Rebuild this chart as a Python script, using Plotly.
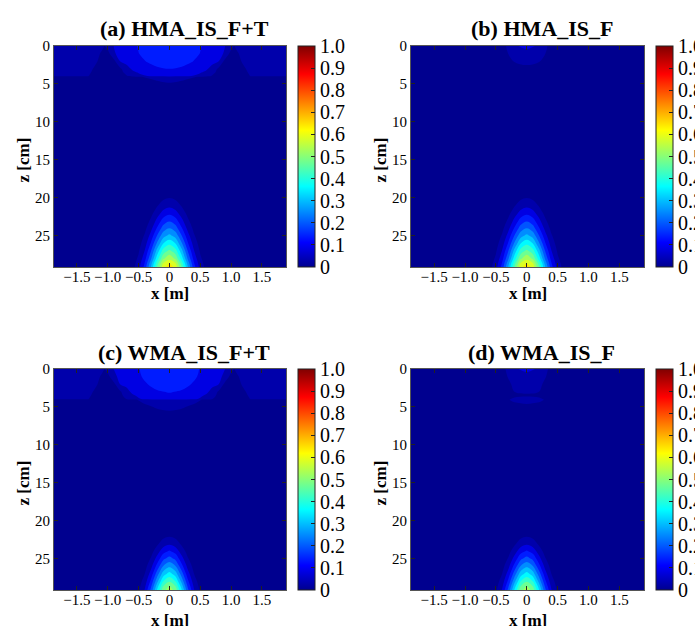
import plotly.graph_objects as go

# ---------------- data ----------------
TITLES = ["(a) HMA_IS_F+T", "(b) HMA_IS_F", "(c) WMA_IS_F+T", "(d) WMA_IS_F"]
X_TICKS = [-1.5, -1.0, -0.5, 0, 0.5, 1.0, 1.5]
X_TICK_TEXT = ["\u22121.5", "\u22121.0", "\u22120.5", "0", "0.5", "1.0", "1.5"]
Z_TICKS = [0, 5, 10, 15, 20, 25]
Z_TICK_TEXT = ["0", "5", "10", "15", "20", "25"]
CB_TICKS = [0, 0.1, 0.2, 0.3, 0.4, 0.5, 0.6, 0.7, 0.8, 0.9, 1.0]
CB_TICK_TEXT = ["0", "0.1", "0.2", "0.3", "0.4", "0.5", "0.6", "0.7", "0.8", "0.9", "1.0"]

# near-surface field (half width, x >= 0), rows follow Z_TOP
X_HALF_TOP = [0, 0.2, 0.35, 0.5, 0.6, 0.7, 0.8, 0.9, 1.0, 1.05, 1.1, 1.2, 1.3, 1.45, 1.6, 1.75, 1.9]
Z_TOP = [0, 1, 2, 3, 3.5, 3.95, 4.05, 4.5, 5, 6, 9]

TOP_A = [
    [0.190, 0.185, 0.172, 0.153, 0.140, 0.125, 0.112, 0.101, 0.070, 0.049, 0.062, 0.072, 0.075, 0.075, 0.075, 0.075, 0.075],
    [0.180, 0.176, 0.165, 0.149, 0.137, 0.124, 0.112, 0.095, 0.030, 0.032, 0.045, 0.066, 0.074, 0.075, 0.075, 0.075, 0.075],
    [0.168, 0.163, 0.153, 0.140, 0.128, 0.115, 0.100, 0.035, 0.030, 0.030, 0.035, 0.058, 0.070, 0.074, 0.074, 0.074, 0.074],
    [0.150, 0.145, 0.135, 0.120, 0.107, 0.080, 0.040, 0.030, 0.028, 0.028, 0.030, 0.042, 0.062, 0.072, 0.073, 0.073, 0.073],
    [0.140, 0.133, 0.118, 0.103, 0.088, 0.062, 0.035, 0.028, 0.026, 0.026, 0.028, 0.038, 0.055, 0.070, 0.072, 0.072, 0.072],
    [0.130, 0.120, 0.101, 0.085, 0.068, 0.045, 0.030, 0.025, 0.024, 0.024, 0.025, 0.033, 0.049, 0.068, 0.072, 0.072, 0.072],
    [0.078, 0.070, 0.058, 0.045, 0.035, 0.025, 0.015, 0.010, 0.006, 0.005, 0.004, 0.003, 0.002],
    [0.062, 0.053, 0.040, 0.028, 0.020, 0.014, 0.008, 0.005, 0.003, 0.002, 0.002, 0.001],
    [0.045, 0.035, 0.025, 0.015, 0.010, 0.006, 0.003, 0.002],
    [0.025, 0.020, 0.012, 0.006, 0.003],
    [],
]
TOP_B = [
    [0.110, 0.095, 0.045, 0.020, 0.012, 0.008, 0.005, 0.003],
    [0.085, 0.072, 0.040, 0.018, 0.010, 0.006, 0.004, 0.002],
    [0.060, 0.052, 0.032, 0.015, 0.008, 0.005, 0.003],
    [0.040, 0.035, 0.022, 0.010, 0.005, 0.003],
    [0.034, 0.029, 0.019, 0.009, 0.004, 0.002],
    [0.030, 0.025, 0.016, 0.008, 0.004],
    [0.020, 0.017, 0.011, 0.005, 0.002],
    [0.016, 0.013, 0.008, 0.004],
    [0.012, 0.010, 0.006, 0.003],
    [0.006, 0.005, 0.003],
    [],
]
TOP_C = [
    [0.185, 0.178, 0.165, 0.148, 0.136, 0.124, 0.112, 0.101, 0.070, 0.049, 0.062, 0.072, 0.075, 0.075, 0.075, 0.075, 0.075],
    [0.177, 0.172, 0.160, 0.145, 0.134, 0.122, 0.108, 0.092, 0.030, 0.032, 0.045, 0.066, 0.074, 0.075, 0.075, 0.075, 0.075],
    [0.165, 0.160, 0.150, 0.137, 0.126, 0.113, 0.100, 0.035, 0.030, 0.030, 0.035, 0.058, 0.070, 0.074, 0.074, 0.074, 0.074],
    [0.152, 0.147, 0.137, 0.123, 0.110, 0.082, 0.042, 0.030, 0.028, 0.028, 0.030, 0.042, 0.062, 0.072, 0.073, 0.073, 0.073],
    [0.145, 0.138, 0.124, 0.108, 0.093, 0.066, 0.037, 0.028, 0.026, 0.026, 0.028, 0.038, 0.055, 0.070, 0.072, 0.072, 0.072],
    [0.138, 0.130, 0.112, 0.095, 0.075, 0.050, 0.033, 0.026, 0.024, 0.024, 0.025, 0.033, 0.049, 0.068, 0.072, 0.072, 0.072],
    [0.090, 0.082, 0.068, 0.052, 0.042, 0.032, 0.022, 0.015, 0.010, 0.008, 0.007, 0.005, 0.003],
    [0.078, 0.070, 0.057, 0.043, 0.034, 0.025, 0.017, 0.011, 0.007, 0.005, 0.004, 0.003, 0.002],
    [0.062, 0.055, 0.043, 0.031, 0.024, 0.017, 0.011, 0.007, 0.004, 0.003, 0.002, 0.001],
    [0.038, 0.033, 0.025, 0.017, 0.012, 0.008, 0.005, 0.003],
    [],
]
TOP_D = [
    [0.110, 0.095, 0.048, 0.020, 0.012, 0.008, 0.005, 0.003],
    [0.085, 0.075, 0.042, 0.018, 0.010, 0.006, 0.004, 0.002],
    [0.066, 0.058, 0.035, 0.016, 0.009, 0.005, 0.003],
    [0.054, 0.050, 0.030, 0.013, 0.007, 0.004, 0.002],
    [0.046, 0.042, 0.028, 0.012, 0.006, 0.003],
    [0.062, 0.056, 0.040, 0.018, 0.009, 0.005, 0.002],
    [0.064, 0.058, 0.042, 0.020, 0.010, 0.005, 0.002],
    [0.053, 0.047, 0.032, 0.015, 0.008, 0.004],
    [0.040, 0.035, 0.024, 0.011, 0.006, 0.003],
    [0.020, 0.017, 0.012, 0.005, 0.003],
    [],
]

# deep stress bulb (half width, x >= 0), rows follow Z_BULB
X_HALF_BULB = [0, 0.1, 0.2, 0.3, 0.4, 0.5, 0.6, 0.7, 0.8, 1.0, 1.9]
Z_BULB = [8, 17, 19, 20, 21, 22, 23, 24, 25, 26, 27, 28, 28.6, 29.1]

BULB_HMA = [
    [],
    [0.010, 0.008, 0.004, 0.001],
    [0.030, 0.025, 0.0144, 0.0057, 0.0016],
    [0.049, 0.041, 0.0245, 0.0103, 0.003, 0.0006],
    [0.086, 0.0732, 0.0451, 0.0201, 0.0065, 0.0015],
    [0.1375, 0.118, 0.0752, 0.0354, 0.0123, 0.0032, 0.0006],
    [0.194, 0.170, 0.1135, 0.058, 0.0227, 0.0068, 0.0016],
    [0.250, 0.222, 0.1546, 0.0847, 0.0366, 0.0124, 0.0033, 0.0007],
    [0.314, 0.282, 0.203, 0.1175, 0.0548, 0.0205, 0.0062, 0.0015],
    [0.386, 0.349, 0.257, 0.155, 0.0762, 0.0306, 0.010, 0.0027, 0.0005],
    [0.464, 0.422, 0.318, 0.198, 0.102, 0.0437, 0.0154, 0.0045, 0.0011],
    [0.536, 0.491, 0.3765, 0.242, 0.1306, 0.059, 0.0224, 0.0071, 0.0019],
    [0.600, 0.551, 0.426, 0.278, 0.153, 0.071, 0.0277, 0.0091, 0.0025],
    [0.630, 0.580, 0.4527, 0.2994, 0.1679, 0.0798, 0.0321, 0.011, 0.0032],
]
BULB_WMA = [
    [],
    [],
    [],
    [0.006, 0.004, 0.002],
    [0.020, 0.0158, 0.0077, 0.0023, 0.0004],
    [0.046, 0.0368, 0.0189, 0.0062, 0.0013],
    [0.091, 0.0743, 0.0404, 0.0147, 0.0035, 0.0006],
    [0.156, 0.130, 0.0755, 0.0305, 0.0086, 0.0017, 0.0002],
    [0.221, 0.189, 0.1184, 0.0543, 0.0182, 0.0045, 0.0008],
    [0.293, 0.255, 0.1684, 0.0842, 0.0319, 0.0092, 0.002, 0.0003],
    [0.370, 0.3265, 0.2244, 0.1201, 0.0501, 0.0162, 0.0041, 0.0008],
    [0.450, 0.4018, 0.286, 0.1622, 0.0733, 0.0265, 0.0076, 0.0017],
    [0.500, 0.449, 0.325, 0.190, 0.0893, 0.0339, 0.0104, 0.0026],
    [0.530, 0.478, 0.352, 0.211, 0.103, 0.041, 0.0133, 0.0035],
]

PANEL_TOPS = [TOP_A, TOP_B, TOP_C, TOP_D]
PANEL_BULBS = [BULB_HMA, BULB_HMA, BULB_WMA, BULB_WMA]

# ---------------- helpers ----------------
def full_x(xh):
    return [-v for v in xh[:0:-1]] + list(xh)

def full_rows(tbl, n):
    out = []
    for r in tbl:
        r = list(r) + [0.0] * (n - len(r))
        out.append(r[:0:-1] + r)
    return out

JET = [[0.0, "rgb(0,0,143)"], [0.111, "rgb(0,0,255)"], [0.365, "rgb(0,255,255)"],
       [0.619, "rgb(255,255,0)"], [0.873, "rgb(255,0,0)"], [1.0, "rgb(128,0,0)"]]

W, H = 695, 626
FONT = "Liberation Serif"
# pixel boxes of the four axes: (left, right, top, bottom)
BOXES = [(54, 286, 46, 267), (411, 644, 46, 267), (54, 286, 369, 590), (411, 644, 369, 590)]
XRANGES = [[-1.87, 1.89], [-1.875, 1.9], [-1.87, 1.89], [-1.875, 1.9]]
XTITLE_OFF = [26, 26, 30, 30]
ZRANGE = [29.1, 0]

fig = go.Figure()
annotations = []
layout_axes = {}

for i in range(4):
    sfx = "" if i == 0 else str(i + 1)
    xa, ya = "x" + sfx, "y" + sfx
    l, r, t, b = BOXES[i]
    contour_common = dict(
        contours=dict(start=0.05, end=1.0, size=0.05, coloring="fill", showlines=False),
        autocontour=False, zmin=0, zmax=1, zauto=False,
        colorscale=JET, showscale=False, line=dict(width=0, smoothing=1.0),
        hoverinfo="skip", xaxis=xa, yaxis=ya,
    )
    fig.add_trace(go.Contour(
        x=full_x(X_HALF_BULB), y=Z_BULB,
        z=full_rows(PANEL_BULBS[i], len(X_HALF_BULB)), **contour_common))
    fig.add_trace(go.Contour(
        x=full_x(X_HALF_TOP), y=Z_TOP,
        z=full_rows(PANEL_TOPS[i], len(X_HALF_TOP)), **contour_common))

    # continuous colorbar (MATLAB-style)
    fig.add_trace(go.Scatter(
        x=[None], y=[None], mode="markers", xaxis=xa, yaxis=ya, hoverinfo="skip",
        showlegend=False,
        marker=dict(color=[0], cmin=0, cmax=1, colorscale=JET, showscale=True,
                    colorbar=dict(
                        x=(r + 12) / W, xanchor="left", y=1 - (t + b) / 2 / H, yanchor="middle",
                        len=(b - t) / H, lenmode="fraction", thickness=17, thicknessmode="pixels",
                        xpad=0, ypad=0, outlinewidth=1, outlinecolor="#222",
                        tickvals=CB_TICKS, ticktext=CB_TICK_TEXT, ticks="inside", ticklen=4,
                        tickcolor="#222", tickfont=dict(family=FONT, size=20, color="black")))))

    axis_common = dict(showgrid=False, zeroline=False, showline=True, linecolor="#555",
                       linewidth=1, mirror="ticks", ticks="inside", ticklen=4, tickcolor="#222",
                       tickangle=0, tickfont=dict(family=FONT, size=15, color="black"))
    layout_axes["xaxis" + sfx] = dict(domain=[l / W, r / W], range=XRANGES[i], anchor=ya,
                                       tickvals=X_TICKS, ticktext=X_TICK_TEXT,
                                       ticklabelstandoff=-4, **axis_common)
    layout_axes["yaxis" + sfx] = dict(domain=[1 - b / H, 1 - t / H], range=ZRANGE, anchor=xa,
                                       tickvals=Z_TICKS, ticktext=Z_TICK_TEXT, **axis_common)

    cx = (l + r) / 2
    annotations.append(dict(text="<b>" + TITLES[i] + "</b>", x=(cx + 14) / W, y=1 - (t - 17) / H,
                            xref="paper", yref="paper", showarrow=False, xanchor="center",
                            yanchor="middle", font=dict(family=FONT, size=22, color="black")))
    annotations.append(dict(text="<b>x [m]</b>", x=cx / W, y=1 - (b + XTITLE_OFF[i]) / H,
                            xref="paper", yref="paper", showarrow=False, xanchor="center",
                            yanchor="middle", font=dict(family=FONT, size=17, color="black")))
    annotations.append(dict(text="<b>z [cm]</b>", x=(l - 31) / W, y=1 - ((t + b) / 2 + 4) / H,
                            xref="paper", yref="paper", showarrow=False, xanchor="center",
                            yanchor="middle", textangle=-90,
                            font=dict(family=FONT, size=17, color="black")))

fig.update_layout(width=W, height=H, margin=dict(l=0, r=0, t=0, b=0, autoexpand=False),
                  paper_bgcolor="white", plot_bgcolor="white", showlegend=False,
                  annotations=annotations, **layout_axes)
fig.write_html("out.html")
